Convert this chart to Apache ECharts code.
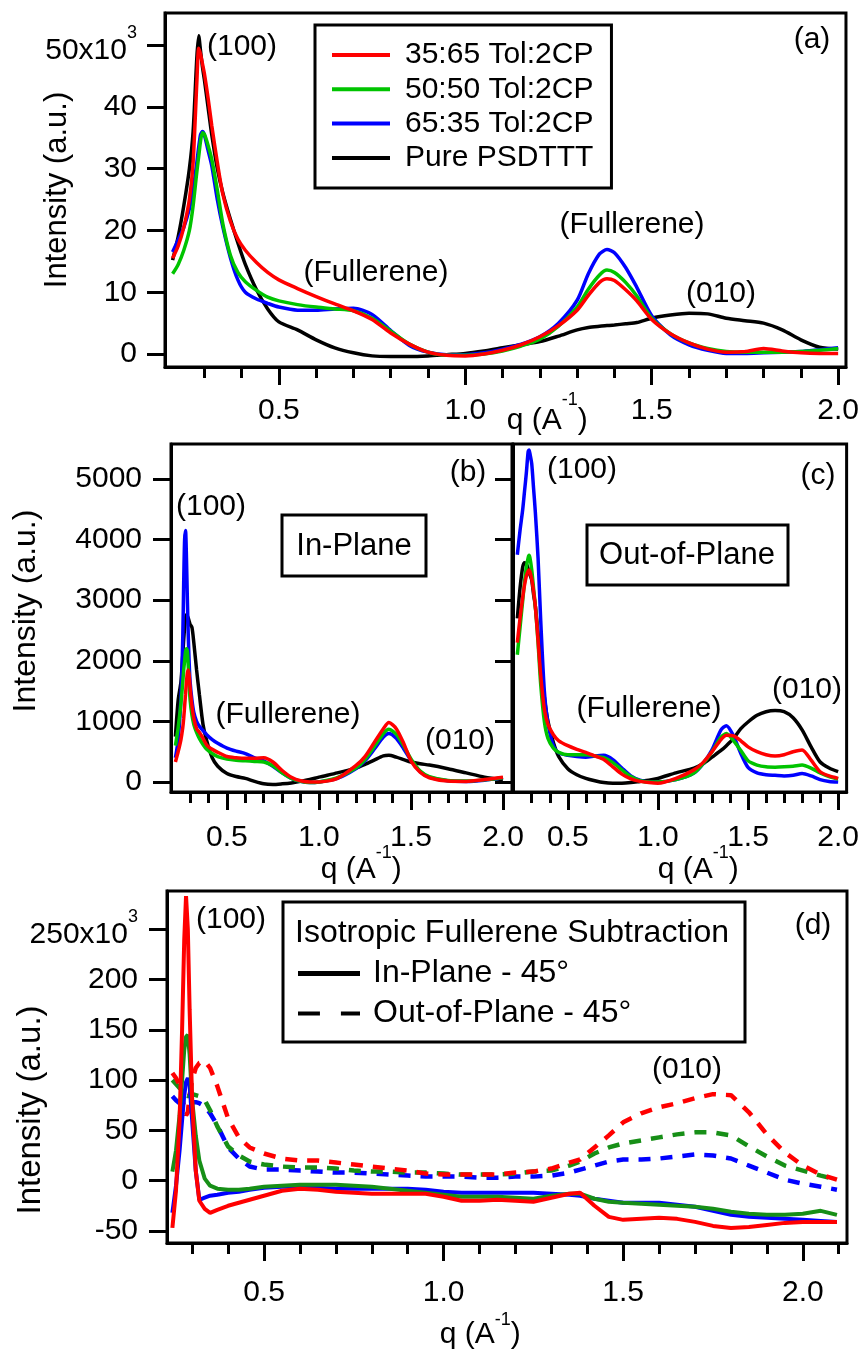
<!DOCTYPE html>
<html>
<head>
<meta charset="utf-8">
<script src="https://cdn.jsdelivr.net/npm/echarts@6/dist/echarts.min.js"></script>
<style>
  html, body { margin: 0; padding: 0; background: #fff; }
  #chart { width: 862px; height: 1354px; }
</style>
</head>
<body>
<div id="chart"></div>
<script>
// ---------- (a) isotropic intensity, units of 10^3 ----------
const qA = [0.215,0.23,0.245,0.26,0.27,0.28,0.285,0.29,0.295,0.30,0.31,0.32,0.335,0.35,0.37,0.39,0.41,0.44,0.47,0.50,0.55,0.60,0.65,0.70,0.75,0.80,0.85,0.90,0.95,1.00,1.05,1.10,1.15,1.20,1.25,1.30,1.33,1.36,1.38,1.40,1.43,1.46,1.50,1.55,1.60,1.65,1.70,1.75,1.80,1.85,1.90,1.95,2.00];
const aRed   = [15.5,17.5,20.5,25,31,44,49.5,48.5,47,45.5,41.5,37,31,25.8,21.5,18.6,16.8,14.8,13.2,12.0,10.6,9.3,8.1,7.0,5.6,3.4,1.6,0.3,-0.2,-0.3,0,0.6,1.5,2.8,4.6,7.1,9.5,11.6,12.2,11.9,10.4,8.6,5.6,3.3,1.8,0.8,0.3,0.4,0.9,0.5,0.2,0.1,0.1];
const aGreen = [13,14.5,16.8,20,24,29.5,32,34.5,35.8,35.6,33.8,31.5,26.5,21,16,13.2,11.7,10.3,9.2,8.6,8.0,7.6,7.3,7.0,5.8,3.7,1.6,0.3,-0.2,-0.2,0,0.5,1.3,2.4,4.5,7.6,10.5,12.8,13.6,13.2,11.6,9.4,5.8,3.3,1.8,0.9,0.4,0.3,0.3,0.3,0.4,0.6,0.9];
const aBlue  = [16.5,18.5,20.5,23.5,26.5,31,33.5,35.5,36,35.5,33,30.5,25,20.5,15.6,12,10,8.9,8.2,7.6,7.1,7.1,7.3,7.4,6.4,3.8,1.4,0.3,-0.1,-0.1,0.2,0.8,1.6,2.8,5.0,8.7,13,16.2,16.9,16.4,14,10.8,6.2,3.1,1.5,0.6,0.1,0.1,0.2,0.3,0.4,0.7,1.0];
const aBlack = [15.2,19,24,30,36,48,51.5,49,46.5,44.5,40,35.5,30,26,21.8,18,14.5,10.4,7.3,5.2,3.9,2.3,1.0,0.2,-0.3,-0.4,-0.4,-0.3,-0.1,0.1,0.5,1.0,1.5,2.0,2.9,3.9,4.3,4.5,4.6,4.7,4.9,5.1,5.8,6.3,6.6,6.5,5.8,5.4,5.0,3.9,2.3,1.1,0.8];

// ---------- (b) in-plane ----------
const qB = [0.22,0.235,0.25,0.26,0.265,0.27,0.275,0.28,0.285,0.29,0.295,0.30,0.31,0.32,0.335,0.35,0.37,0.39,0.42,0.45,0.50,0.55,0.60,0.65,0.70,0.75,0.80,0.85,0.90,0.95,1.00,1.10,1.20,1.25,1.30,1.35,1.38,1.42,1.46,1.50,1.55,1.60,1.70,1.80,1.90,2.00];
const bBlue  = [400,700,1400,2400,3300,4000,4150,3700,3000,2400,1950,1650,1350,1150,1000,920,850,780,700,640,560,510,470,400,350,260,150,60,10,-10,0,60,220,350,540,740,800,720,550,360,170,80,20,10,30,70];
const bGreen = [600,900,1300,1650,1850,2000,2150,2200,2150,1900,1600,1350,1100,950,820,720,620,540,470,420,380,360,350,340,330,270,150,60,10,-10,0,70,230,370,580,800,870,790,600,380,180,90,25,15,35,70];
const bRed   = [330,500,700,900,1050,1250,1450,1650,1800,1850,1750,1550,1250,1050,880,820,720,610,540,490,420,400,390,390,400,330,190,80,20,0,0,60,270,420,650,880,980,880,640,350,160,70,15,10,40,80];
const bBlack = [750,1350,1650,2100,2350,2550,2700,2760,2740,2700,2650,2600,2550,2300,1850,1450,950,680,400,260,140,90,60,10,-30,-40,-30,-15,10,40,80,150,230,290,360,430,440,410,370,330,300,280,220,150,80,40];

// ---------- (c) out-of-plane ----------
const qC = [0.22,0.235,0.25,0.26,0.27,0.28,0.285,0.29,0.30,0.31,0.32,0.335,0.35,0.37,0.39,0.42,0.45,0.50,0.55,0.60,0.65,0.70,0.75,0.80,0.85,0.90,0.95,1.00,1.10,1.20,1.25,1.30,1.35,1.38,1.42,1.46,1.50,1.55,1.60,1.65,1.70,1.75,1.80,1.85,1.90,1.95,2.00];
const cBlue  = [3750,4150,4500,4800,5100,5450,5480,5420,5250,4850,4450,3700,2650,1500,970,600,480,440,420,410,430,440,370,230,100,30,0,0,40,150,300,530,860,930,760,470,240,150,120,110,100,110,140,100,40,10,0];
const cBlack = [2700,3200,3550,3620,3600,3520,3450,3420,3330,3100,2900,2450,2000,1400,1000,650,420,220,120,60,20,-10,-20,-20,-10,10,30,60,150,230,300,410,520,600,720,880,990,1100,1160,1180,1160,1060,860,580,330,230,170];
const cGreen = [2100,2550,3000,3300,3550,3700,3740,3700,3500,3200,2900,2300,1600,1000,720,560,490,450,450,450,430,400,320,200,90,20,0,0,40,150,300,500,740,800,680,520,350,280,250,245,250,260,280,230,150,90,50];
const cRed   = [2300,2700,3050,3250,3400,3480,3500,3470,3350,3150,2900,2340,1750,1200,950,780,680,600,540,490,430,370,250,130,50,10,-10,-20,60,200,320,500,700,770,760,680,580,500,450,430,450,500,530,360,170,100,60];

// ---------- (d) isotropic fullerene subtraction, units of 10^3 ----------
const qD = [0.245,0.255,0.265,0.272,0.278,0.283,0.288,0.293,0.30,0.31,0.32,0.335,0.35,0.37,0.40,0.43,0.46,0.50,0.55,0.60,0.65,0.70,0.75,0.80,0.85,0.90,0.95,1.00,1.05,1.10,1.15,1.20,1.25,1.30,1.35,1.38,1.42,1.46,1.50,1.55,1.60,1.65,1.70,1.75,1.80,1.85,1.90,1.95,2.00,2.05,2.095];
const dRedIn    = [-47,-10,60,150,240,283,250,170,80,10,-20,-28,-32,-29,-25,-22,-19,-15,-10,-8,-9,-11,-12,-13,-13,-13,-13,-16,-20,-20,-19,-20,-21,-17,-13,-12,-25,-36,-39,-38,-37,-38,-41,-45,-47,-46,-44,-42,-41,-41,-41];
const dGreenIn  = [9,30,65,100,130,143,145,125,80,45,20,2,-5,-8,-9,-9,-8,-6,-5,-4,-4,-4,-5,-6,-8,-10,-12,-14,-16,-16,-16,-17,-18,-15,-13,-13,-18,-21,-22,-23,-24,-25,-26,-28,-31,-33,-34,-34,-33,-30,-34];
const dBlueIn   = [-32,-5,30,60,85,98,102,95,60,10,-19,-17,-15,-14,-12,-11,-9,-7,-6,-6,-7,-8,-8,-8,-8,-8,-9,-11,-12,-12,-12,-12,-12,-13,-14,-15,-18,-20,-22,-22,-22,-24,-26,-30,-34,-36,-37,-38,-39,-40,-41];
const dRedOut   = [107,102,95,85,72,65,68,85,100,112,117,119,112,94,62,43,33,27,22,20,20,18,16,14,12,10,7,6,6,6,6,8,9,12,18,21,33,45,58,67,73,77,82,86,85,68,46,28,15,6,1];
const dGreenOut = [100,96,92,88,85,84,84,85,86,85,84,80,70,54,34,25,19,16,14,13,13,12,10,9,9,8,8,7,6,6,6,7,9,10,15,19,27,33,37,40,43,46,48,48,45,34,24,15,10,5,1];
const dBlueOut  = [84,80,77,75,74,74,75,76,78,78,77,74,67,55,33,22,14,11,11,10,9,8,8,7,6,5,4,4,4,3,3,4,4,5,8,11,15,19,21,21,22,24,26,25,22,15,8,1,-3,-6,-9];

// ---------- tick positions ----------
const xMajor = [0.5, 1.0, 1.5, 2.0];
const xMinorABC = [0.3,0.4,0.5,0.6,0.7,0.8,0.9,1.0,1.1,1.2,1.3,1.4,1.5,1.6,1.7,1.8,1.9,2.0];
const xMinorD = [0.3,0.4,0.5,0.6,0.7,0.8,0.9,1.0,1.1,1.2,1.3,1.4,1.5,1.6,1.7,1.8,1.9,2.0,2.1];
const yTicksA = [0, 10, 20, 30, 40, 50];
const yTicksBC = [0, 1000, 2000, 3000, 4000, 5000];
const yTicksD = [-50, 0, 50, 100, 150, 200, 250];

const names = ['35:65 Tol:2CP', '50:50 Tol:2CP', '65:35 Tol:2CP', 'Pure PSDTTT'];

const FONT = '"Liberation Sans", Arial, Helvetica, sans-serif';
const RED = '#ff0000', GREEN = '#00c400', BLUE = '#0000ff', BLACK = '#000000';
const DGREEN = '#178f17';

const tickLine = { color: '#000', width: 3 };

// rich styles for "x10^3" style superscripts: an invisible spacer sets the line
// height, the base text sits at the bottom and the exponent at the top
function supStyles(lineH, baseSize, supSize) {
  return {
    e: { fontSize: 1, lineHeight: lineH, fontFamily: FONT, color: 'rgba(0,0,0,0)' },
    b: { fontSize: baseSize, fontFamily: FONT, color: '#000', lineHeight: baseSize, verticalAlign: 'bottom' },
    s: { fontSize: supSize, fontFamily: FONT, color: '#000', lineHeight: supSize, verticalAlign: 'top' }
  };
}

function xAxesFor(gridIndex, min, max, minor, margin) {
  return [{
    type: 'value', gridIndex, min, max, position: 'bottom',
    axisLine: { show: true, onZero: false, lineStyle: tickLine },
    axisTick: { show: true, inside: false, length: 18, customValues: xMajor, lineStyle: tickLine },
    axisLabel: { show: true, customValues: xMajor, margin, color: '#000', fontSize: 30, fontFamily: FONT,
                 formatter: v => v.toFixed(1) },
    splitLine: { show: false }
  }, {
    type: 'value', gridIndex, min, max, position: 'bottom',
    axisLine: { show: false, onZero: false },
    axisTick: { show: true, inside: false, length: 11, customValues: minor, lineStyle: tickLine },
    axisLabel: { show: false },
    splitLine: { show: false }
  }];
}

function yAxisFor(gridIndex, min, max, ticks, showLabels, margin, formatter) {
  return {
    type: 'value', gridIndex, min, max, position: 'left',
    axisLine: { show: true, onZero: false, lineStyle: tickLine },
    axisTick: { show: true, inside: false, length: 18, customValues: ticks, lineStyle: tickLine },
    axisLabel: { show: showLabels, customValues: ticks, margin, color: '#000', fontSize: 30, fontFamily: FONT,
                 formatter: formatter || (v => String(v)), rich: supStyles(42, 30, 18) },
    splitLine: { show: false }
  };
}

function pairs(q, v) { return q.map((x, i) => [x, v[i]]); }

function curve(name, q, v, color, xi, yi, extra) {
  const s = {
    name, type: 'line', xAxisIndex: xi, yAxisIndex: yi,
    data: pairs(q, v), showSymbol: false, symbol: 'none',
    smooth: 0.25, color,
    lineStyle: { color, width: 3.5 },
    emphasis: { disabled: true }
  };
  return Object.assign(s, extra || {});
}

const dashed = { type: [12, 10], width: 4.5 };

const series = [
  // (a)
  curve(names[3], qA, aBlack, BLACK, 0, 0),
  curve(names[2], qA, aBlue, BLUE, 0, 0),
  curve(names[1], qA, aGreen, GREEN, 0, 0),
  curve(names[0], qA, aRed, RED, 0, 0),
  // (b)
  curve(names[3], qB, bBlack, BLACK, 2, 1),
  curve(names[2], qB, bBlue, BLUE, 2, 1),
  curve(names[1], qB, bGreen, GREEN, 2, 1),
  curve(names[0], qB, bRed, RED, 2, 1),
  // (c)
  curve(names[3], qC, cBlack, BLACK, 4, 2),
  curve(names[2], qC, cBlue, BLUE, 4, 2),
  curve(names[1], qC, cGreen, GREEN, 4, 2),
  curve(names[0], qC, cRed, RED, 4, 2),
  // (d) out-of-plane dashed, in-plane solid
  curve('65:35 out-of-plane', qD, dBlueOut, BLUE, 6, 3, { smooth: false, lineStyle: Object.assign({ color: BLUE }, dashed) }),
  curve('50:50 out-of-plane', qD, dGreenOut, DGREEN, 6, 3, { smooth: false, lineStyle: Object.assign({ color: DGREEN }, dashed) }),
  curve('35:65 out-of-plane', qD, dRedOut, RED, 6, 3, { smooth: false, lineStyle: Object.assign({ color: RED }, dashed) }),
  curve('65:35 in-plane', qD, dBlueIn, BLUE, 6, 3, { smooth: false, lineStyle: { color: BLUE, width: 4 } }),
  curve('50:50 in-plane', qD, dGreenIn, DGREEN, 6, 3, { smooth: false, lineStyle: { color: DGREEN, width: 4 } }),
  curve('35:65 in-plane', qD, dRedIn, RED, 6, 3, { smooth: false, lineStyle: { color: RED, width: 4 } }),
  // style keys for the (d) legend
  { name: 'In-Plane - 45°', type: 'line', xAxisIndex: 6, yAxisIndex: 3, data: [], color: BLACK, symbol: 'none',
    lineStyle: { color: BLACK, width: 4 } },
  { name: 'Out-of-Plane - 45°', type: 'line', xAxisIndex: 6, yAxisIndex: 3, data: [], color: BLACK, symbol: 'none',
    lineStyle: Object.assign({ color: BLACK }, dashed) }
];

function label(text, x, y, size) {
  return { type: 'text', x, y, z: 100,
    style: { text, fontSize: size || 30, fontFamily: FONT, fill: '#000', align: 'center', verticalAlign: 'middle' } };
}
function qTitle(x, y, lineH) {
  return { type: 'text', x, y, z: 100,
    style: { text: '{e| }{b|q (A}{s|-1}{b|)}', fontFamily: FONT, fill: '#000', align: 'center', verticalAlign: 'middle',
      rich: supStyles(lineH, 30, 18) } };
}
function yTitle(x, y, size) {
  return { type: 'text', x, y, rotation: Math.PI / 2, z: 100,
    style: { text: 'Intensity (a.u.)', fontSize: size, fontFamily: FONT, fill: '#000', align: 'center', verticalAlign: 'middle' } };
}
function box(x, y, w, h) {
  return { type: 'rect', z: 90, shape: { x, y, width: w, height: h },
    style: { fill: '#fff', stroke: '#000', lineWidth: 3 } };
}

const option = {
  animation: false,
  backgroundColor: '#fff',
  grid: [
    { left: 165, top: 13, width: 682, height: 354, show: true, borderColor: '#000', borderWidth: 3, backgroundColor: 'transparent' },
    { left: 171, top: 444, width: 341, height: 348, show: true, borderColor: '#000', borderWidth: 3, backgroundColor: 'transparent' },
    { left: 513, top: 444, width: 335, height: 348, show: true, borderColor: '#000', borderWidth: 3, backgroundColor: 'transparent' },
    { left: 167, top: 891, width: 680, height: 352, show: true, borderColor: '#000', borderWidth: 3, backgroundColor: 'transparent' }
  ],
  xAxis: [].concat(
    xAxesFor(0, 0.1946, 2.021, xMinorABC, 29),
    xAxesFor(1, 0.196, 2.049, xMinorABC, 31),
    xAxesFor(2, 0.196, 2.047, xMinorABC, 31),
    xAxesFor(3, 0.23, 2.123, xMinorD, 35)
  ),
  yAxis: [
    yAxisFor(0, -2.1, 55.2, yTicksA, true, 28, v => v === 50 ? '{e| }{b|50x10}{s|3}' : String(v)),
    yAxisFor(1, -165, 5578, yTicksBC, true, 29),
    yAxisFor(2, -165, 5578, yTicksBC, false, 29),
    yAxisFor(3, -62, 288, yTicksD, true, 29, v => v === 250 ? '{e| }{b|250x10}{s|3}' : String(v))
  ],
  legend: [{
    left: 315, top: 25, orient: 'vertical', icon: 'rect',
    itemWidth: 58, itemHeight: 4, itemGap: 4.3,
    padding: [15, 18, 15, 17],
    borderColor: '#000', borderWidth: 3, backgroundColor: '#fff',
    selectedMode: false,
    itemStyle: { borderWidth: 0 },
    textStyle: { fontSize: 30, fontFamily: FONT, color: '#000', lineHeight: 30, padding: [0, 0, 0, 10] },
    data: names
  }, {
    left: 298, top: 957.5, orient: 'vertical', z: 120,
    itemWidth: 62, itemHeight: 5, itemGap: 8,
    padding: 0, selectedMode: false,
    itemStyle: { borderWidth: 0 },
    textStyle: { fontSize: 32, fontFamily: FONT, color: '#000', lineHeight: 31, padding: [0, 0, 0, 8] },
    data: [
      { name: 'In-Plane - 45°', icon: 'rect' },
      { name: 'Out-of-Plane - 45°', icon: 'path://M0,0H23V4H0ZM45,0H65V4H45Z' }
    ]
  }],
  graphic: [
    // axis titles
    yTitle(57, 190, 31),
    yTitle(26, 611, 32),
    yTitle(31, 1110, 33),
    qTitle(547, 413.5, 45),
    qTitle(361, 864.5, 41),
    qTitle(698, 864.5, 41),
    qTitle(480, 1330.5, 39),
    // panel (a)
    label('(100)', 242, 47, 30),
    label('(a)', 812, 40, 30),
    label('(Fullerene)', 376, 273, 30),
    label('(Fullerene)', 632, 225, 30),
    label('(010)', 721, 294, 30),
    // panel (b)
    label('(100)', 211, 507, 30),
    label('(b)', 468, 473, 30),
    box(282, 515, 144, 61),
    label('In-Plane', 354, 546, 31),
    label('(Fullerene)', 288, 715, 30),
    label('(010)', 460, 741, 30),
    // panel (c)
    label('(100)', 582, 470, 30),
    label('(c)', 818, 476, 30),
    box(587, 525, 201, 60),
    label('Out-of-Plane', 687, 555, 31),
    label('(Fullerene)', 649, 709, 30),
    label('(010)', 807, 690, 30),
    // panel (d)
    label('(100)', 231, 920, 30),
    label('(d)', 813, 926, 30),
    label('(010)', 687, 1070, 30),
    box(283, 902, 462, 140),
    { type: 'text', x: 295, y: 933, z: 110,
      style: { text: 'Isotropic Fullerene Subtraction', fontSize: 32, fontFamily: FONT, fill: '#000', align: 'left', verticalAlign: 'middle' } }
  ],
  series
};

const chart = echarts.init(document.getElementById('chart'), null, { renderer: 'canvas' });
chart.setOption(option);
</script>
</body>
</html>
